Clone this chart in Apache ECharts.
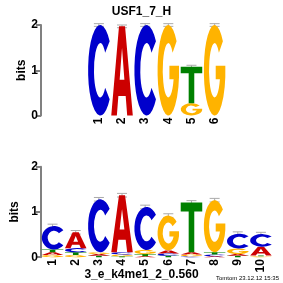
<!DOCTYPE html>
<html>
<head>
<meta charset="utf-8">
<script src="https://cdn.jsdelivr.net/npm/echarts@6/dist/echarts.min.js"></script>
<style>html,body{margin:0;padding:0;background:#fff}#c{width:283px;height:283px}</style>
</head>
<body>
<div id="c"></div>
<script>
// ---- data ----
const TOP_TITLE = 'USF1_7_H';
const BOT_TITLE = '3_e_k4me1_2_0.560';
const STAMP = 'Tomtom 23.12.12 15:35';
const Y_TICKS = [0, 1, 2];

const TOP_POS = ['1', '2', '3', '4', '5', '6'];
const TOP_A = [0, 1.97, 0, 0, 0, 0];
const TOP_C = [2.0, 0, 2.0, 0, 0, 0];
const TOP_G = [0, 0, 0, 2.0, 0.27, 2.0];
const TOP_T = [0, 0, 0, 0, 0.81, 0];
const TOP_ERR = [0.03, 0.03, 0.03, 0.03, 0.03, 0.03];

const BOT_POS = ['1', '2', '3', '4', '5', '6', '7', '8', '9', '10'];
const BOT_A = [0.06, 0.35, 0.04, 1.26, 0.02, 0.07, 0.05, 0.02, 0.04, 0.19];
const BOT_C = [0.52, 0.09, 1.17, 0.05, 0.95, 0.05, 0.02, 0.04, 0.33, 0.28];
const BOT_G = [0.05, 0.05, 0.04, 0.04, 0.09, 0.77, 0.04, 1.15, 0.12, 0.02];
const BOT_T = [0.06, 0.06, 0.03, 0.02, 0.05, 0.03, 1.10, 0.05, 0.03, 0.02];
const BOT_ERR = [0.04, 0.04, 0.04, 0.04, 0.04, 0.04, 0.04, 0.04, 0.04, 0.04];

// ---- glyphs & style ----
const LETTERS = ['A', 'C', 'G', 'T'];
const COLORS = ['#cc0000', '#0000cc', '#ffb300', '#008000'];
const PATHS = [
  'M0 100 L36 0 L64 0 L100 100 L74 100 L67 78 L33 78 L26 100 Z M39 60 L61 60 L50 24 Z',
  'M88.3 17.9 A50 50 0 1 0 88.3 82.1 L69.9 69.3 A26 30 0 1 1 69.9 30.7 Z',
  'M88.3 17.9 A50 50 0 1 0 99.7 45 L55 45 L55 60 L74.5 60 A26 30 0 1 1 69.9 30.7 Z',
  'M0 0 L100 0 L100 18 L63 18 L63 100 L37 100 L37 18 L0 18 Z'
];
const FONT = 'Liberation Sans, Arial, Helvetica, sans-serif';

function buildStacks(A, C, G, T) {
  const items = [], tops = [];
  for (let i = 0; i < A.length; i++) {
    const col = [[0, A[i]], [1, C[i]], [2, G[i]], [3, T[i]]].filter(d => d[1] > 0);
    col.sort((a, b) => a[1] - b[1]);
    let y = 0;
    col.forEach(d => { items.push([i, y, y + d[1], d[0]]); y += d[1]; });
    tops.push(y);
  }
  return { items, tops };
}
const topS = buildStacks(TOP_A, TOP_C, TOP_G, TOP_T);
const botS = buildStacks(BOT_A, BOT_C, BOT_G, BOT_T);

function renderLetter(params, api) {
  const c = api.value(0), y0 = api.value(1), y1 = api.value(2), l = api.value(3);
  const p0 = api.coord([c, y0]), p1 = api.coord([c, y1]);
  const bw = api.size([1, 0])[0] * 0.93;
  return {
    type: 'path',
    shape: { pathData: PATHS[l], layout: 'cover', x: p0[0] - bw / 2, y: p1[1], width: bw, height: Math.max(p0[1] - p1[1], 0.4) },
    style: { fill: COLORS[l] }
  };
}
function renderErr(params, api) {
  const c = api.value(0), t = api.value(1), e = api.value(2);
  const hi = api.coord([c, t + e]), lo = api.coord([c, t - e]);
  const w = 5;
  const st = { stroke: '#aaaaaa', lineWidth: 1 };
  return { type: 'group', children: [
    { type: 'line', shape: { x1: hi[0], y1: hi[1], x2: lo[0], y2: lo[1] }, style: st },
    { type: 'line', shape: { x1: hi[0] - w, y1: hi[1], x2: hi[0] + w, y2: hi[1] }, style: st },
    { type: 'line', shape: { x1: lo[0] - w, y1: lo[1], x2: lo[0] + w, y2: lo[1] }, style: st }
  ]};
}

function xAxisCfg(gi, data) {
  return {
    type: 'category', gridIndex: gi, data: data,
    axisLine: { show: false }, axisTick: { show: false }, splitLine: { show: false },
    axisLabel: { rotate: 90, margin: 2, fontWeight: 'bold', fontSize: 12, color: '#000', fontFamily: FONT, interval: 0 }
  };
}
function yAxisCfg(gi, offset) {
  return {
    type: 'value', gridIndex: gi, min: Y_TICKS[0], max: Y_TICKS[Y_TICKS.length - 1], interval: 1, offset: offset,
    name: 'bits', nameLocation: 'middle', nameGap: 11,
    nameTextStyle: { fontWeight: 'bold', fontSize: 12, color: '#000', fontFamily: FONT },
    axisLine: { show: true, lineStyle: { color: '#808080', width: 2 } },
    axisTick: { show: true, length: 5, lineStyle: { color: '#808080', width: 2 } },
    axisLabel: { margin: 3, fontWeight: 'bold', fontSize: 12, color: '#000', fontFamily: FONT },
    splitLine: { show: false }
  };
}

const chart = echarts.init(document.getElementById('c'), null, { renderer: 'canvas' });
chart.setOption({
  animation: false,
  backgroundColor: '#fff',
  title: [
    { text: TOP_TITLE, left: 'center', top: 1, textStyle: { fontWeight: 'bold', fontSize: 12, color: '#000', fontFamily: FONT } },
    { text: BOT_TITLE, left: 'center', top: 268.5, padding: 0, textStyle: { fontWeight: 'bold', fontSize: 12, lineHeight: 13, color: '#000', fontFamily: FONT } },
    { text: STAMP, right: 4, top: 275, padding: 0, textStyle: { fontWeight: 'normal', fontSize: 6, color: '#000', fontFamily: FONT } }
  ],
  grid: [
    { left: 87.3, top: 25, width: 138.9, height: 90.5 },
    { left: 41, top: 166.7, width: 231.5, height: 90.5 }
  ],
  xAxis: [xAxisCfg(0, TOP_POS), xAxisCfg(1, BOT_POS)],
  yAxis: [yAxisCfg(0, 46.3), yAxisCfg(1, 0)],
  series: [
    { type: 'custom', xAxisIndex: 0, yAxisIndex: 0, renderItem: renderErr, silent: true, z: 1,
      data: topS.tops.map((t, i) => [i, t, TOP_ERR[i]]), encode: { x: 0, y: 1 } },
    { type: 'custom', xAxisIndex: 0, yAxisIndex: 0, renderItem: renderLetter, silent: true, z: 2,
      data: topS.items, encode: { x: 0, y: [1, 2] } },
    { type: 'custom', xAxisIndex: 1, yAxisIndex: 1, renderItem: renderErr, silent: true, z: 1,
      data: botS.tops.map((t, i) => [i, t, BOT_ERR[i]]), encode: { x: 0, y: 1 } },
    { type: 'custom', xAxisIndex: 1, yAxisIndex: 1, renderItem: renderLetter, silent: true, z: 2,
      data: botS.items, encode: { x: 0, y: [1, 2] } }
  ]
});
</script>
</body>
</html>
